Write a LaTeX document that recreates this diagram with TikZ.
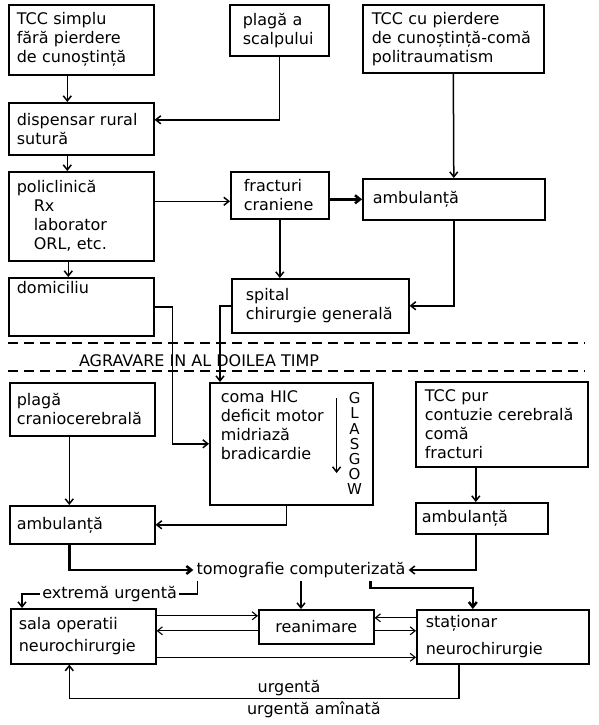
\documentclass[tikz,border=0pt]{standalone}
\usepackage{fontspec}
\setmainfont{DejaVu Sans}
\usepackage{tikz}
\usetikzlibrary{arrows.meta}
\newcommand{\tekst}{\fontsize{16}{19}\selectfont}
\tikzset{
  % De basis voor elk vak
  vak/.style={%
    draw,
    line width=1.6pt,
    anchor=north west,  % Plaatsen vanaf de linkerbovenhoek
    align=left,
    inner xsep=8pt,
    inner ysep=3pt,
    font=\tekst
  },
  % Pijlen tussen de vakken
  pijl/.style={->, line width=1.5pt},
  dikpijl/.style={pijl, line width=2.5pt},
  dunpijl/.style={pijl, line width=1.1pt},
  % Losse teksten en de stippellijnen
  opschrift/.style={font=\tekst, inner sep=2pt},
  scheiding/.style={line width=1.5pt, dash pattern=on 10pt off 6pt}
}
\begin{document}
\begin{tikzpicture}[x=1pt, y=-1pt, >={Straight Barb[length=5pt,width=8pt]}]
  \useasboundingbox (0,0) rectangle (599,725);

  % --- BOVENSTE DEEL ---
  \node[vak, text width=129pt, minimum height=70pt] (tccsimplu) at (8,4)
    {TCC simplu\\ fără pierdere\\ de~cunoștință};
  \node[vak, inner xsep=13pt, text width=73pt, minimum height=51pt] (plaga) at (229,4)
    {plagă a\\ scalpului};
  \node[vak, inner xsep=9pt, text width=163pt, minimum height=68pt] (tccpierdere) at (362,4)
    {TCC cu~pierdere\\ \mbox{de cunoștință-comă}\\ politraumatism};
  \node[vak, text width=129pt, minimum height=52pt] (dispensar) at (8,102)
    {dispensar~rural\\ sutură};
  \node[vak, text width=129pt, minimum height=89pt] (policlinica) at (8,171)
    {policlinică\\ \hspace*{17pt}Rx\\ \hspace*{17pt}laborator\\ \hspace*{17pt}ORL, etc.};
  \node[vak, inner xsep=13pt, text width=72pt, minimum height=47pt] (fracturi) at (230,171)
    {fracturi\\ craniene};
  \node[vak, inner xsep=10pt, text width=162pt, minimum height=41pt] (ambulanta) at (362,178)
    {ambulanță};
  \node[vak, text width=129pt, minimum height=58pt] (domiciliu) at (8,277)
    {domiciliu\\ \mbox{}\\ \mbox{}};
  \node[vak, inner xsep=14pt, text width=149pt, minimum height=54pt] (spital) at (231,278)
    {spital\\ chirurgie~generală};

  % --- DE STIPPELLIJNEN ---
  \draw[scheiding] (8,343) -- (585,343);
  \draw[scheiding] (8,371) -- (585,371);
  \node[opschrift] (agravare) at (199,361) {AGRAVARE IN AL DOILEA TIMP};

  % --- ONDERSTE DEEL ---
  \node[vak, inner xsep=7pt, text width=131pt, minimum height=53pt] (plagacc) at (9,382)
    {plagă\\ craniocerebrală};
  \node[vak, inner xsep=11pt, text width=141pt, minimum height=122pt] (coma) at (209,382)
    {coma HIC\\ deficit~motor\\ midriază\\ bradicardie\\ \mbox{}\\ \mbox{}};
  \node[vak, inner xsep=9pt, text width=154pt, minimum height=85pt] (tccpur) at (415,381)
    {TCC pur\\ contuzie~cerebrală\\ comă\\ fracturi};
  \node[vak, inner xsep=7pt, text width=131pt, minimum height=38pt] (ambulantast) at (9,505)
    {ambulanță};
  \node[vak, inner xsep=6pt, text width=120pt, minimum height=31pt] (ambulantadr) at (415,502)
    {ambulanță};
  \node[opschrift, inner sep=3pt] (tomo) at (301,570) {tomografie computerizată};
  \node[vak, text width=129pt, minimum height=55pt] (sala) at (10,608)
    {sala operatii\\[3pt] neurochirurgie};
  \node[vak, align=center, text width=99pt, minimum height=34pt] (reanimare) at (258,609)
    {reanimare};
  \node[vak, inner xsep=9pt, text width=154pt, minimum height=54pt] (stationar) at (416,609)
    {staționar\\[8pt] neurochirurgie};

  % GLASGOW in het coma-vak
  \node[font=\fontsize{15}{15.2}\selectfont, align=center, inner sep=0pt] (glasgow)
    at ([xshift=-19pt]coma.east) {G\\L\\A\\S\\G\\O\\W};
  \coordinate (gboven) at ([xshift=-37pt,yshift=-16pt]coma.north east);
  \coordinate (gonder) at ([xshift=-37pt,yshift=-91pt]coma.north east);
  \draw[pijl] (gboven) -- (gonder);

  % --- PIJLEN BOVEN ---
  \draw[pijl] ([xshift=-14pt]tccsimplu.south) -- ([xshift=-14pt]dispensar.north);
  \draw[pijl] (plaga.south) |- ([yshift=9pt]dispensar.east);
  \draw[pijl] (tccpierdere.south) -- (ambulanta.north);
  \draw[pijl] ([xshift=-14pt]dispensar.south) -- ([xshift=-14pt]policlinica.north);
  \coordinate (ef) at ([yshift=15pt]policlinica.east);
  \draw[pijl] (ef) -- (ef -| fracturi.west);
  \draw[dikpijl] (fracturi.east |- ambulanta.west) -- (ambulanta.west);
  \draw[pijl] (fracturi.south) -- (fracturi.south |- spital.north);
  \draw[pijl] (ambulanta.south) |- (spital.east);
  \draw[pijl] ([xshift=-13pt]policlinica.south) -- ([xshift=-13pt]domiciliu.north);
  \draw[pijl] (domiciliu.east) -- ++(18,0) |- (coma.west);
  \draw[pijl] (spital.west) -| ([xshift=11pt]coma.north west);

  % --- PIJLEN ONDER ---
  \draw[pijl] ([xshift=-13pt]plagacc.south) -- ([xshift=-13pt]ambulantast.north);
  \draw[pijl] ([xshift=-5pt]coma.south) |- (ambulantast.east);
  \coordinate (ln) at ([xshift=-6pt]ambulantadr.north);
  \draw[pijl] (ln |- tccpur.south) -- (ln);
  \draw[dikpijl] ([xshift=-13pt]ambulantast.south) |- (tomo.west);
  \draw[pijl] (ln |- ambulantadr.south) |- (tomo.east);
  \draw[pijl] (tomo.south) -- (tomo.south |- reanimare.north);
  \coordinate (tq) at ([xshift=-38pt]tomo.south east);
  \draw[dikpijl] (tq) -- ++(0,7) -| ([xshift=-30pt]stationar.north);
  \draw[pijl] ([xshift=4pt]tomo.south west) -- ++(0,13) -| ([xshift=12pt]sala.north west)
    node[opschrift, pos=0.25, fill=white] {extremă urgentă};

  \coordinate (op1) at ([yshift=11pt]reanimare.west);
  \coordinate (op2) at ([yshift=-4pt]reanimare.west);
  \draw[dunpijl] (op1 -| sala.east) -- (op1);
  \draw[dunpijl] (op2) -- (op2 -| sala.east);
  \coordinate (pq1) at ([yshift=9pt]reanimare.east);
  \coordinate (pq2) at ([yshift=-4pt]reanimare.east);
  \draw[dunpijl] (pq1 -| stationar.west) -- (pq1);
  \draw[dunpijl] (pq2) -- (pq2 -| stationar.west);
  \coordinate (oq) at ([yshift=-21pt]sala.east);
  \draw[dunpijl] (oq) -- (oq -| stationar.west);
  \draw[pijl] ([xshift=-44pt]stationar.south) -- ++(0,34) -| ([xshift=-14pt]sala.south)
    node[opschrift, pos=0.218, above] {urgentă}
    node[opschrift, pos=0.186, below] {urgentă amînată};

\end{tikzpicture}
\end{document}
